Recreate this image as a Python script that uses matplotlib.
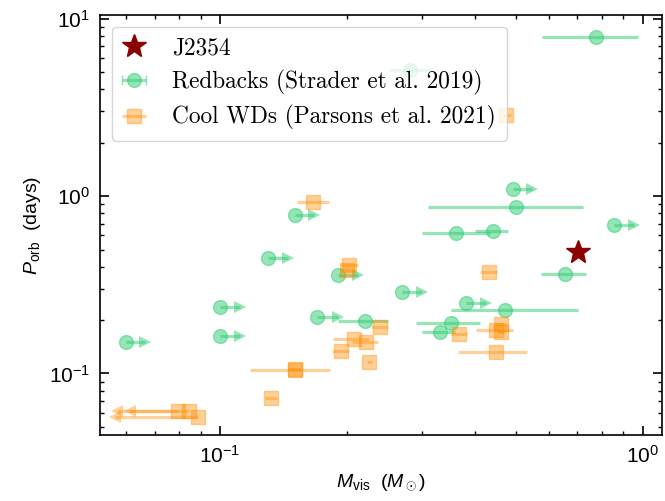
import matplotlib
matplotlib.use("Agg")
import matplotlib.pyplot as plt
import numpy as np

# J2354
j_mass = [0.703]
j_porb = [0.4845]

# Redbacks (Strader et al. 2019) with mass errors
rb_mass = [0.2206, 0.502, 0.361, 0.441, 0.654, 0.472, 0.351, 0.331, 0.773, 0.2806]
rb_porb = [0.1975, 0.87, 0.616, 0.634, 0.366, 0.227, 0.192, 0.171, 7.86, 5.12]
rb_err_lo = [0.0306, 0.191, 0.060, 0.0395, 0.080, 0.120, 0.060, 0.030, 0.197, 0.0296]
rb_err_hi = [0.0284, 0.220, 0.074, 0.040, 0.079, 0.231, 0.061, 0.028, 0.201, 0.0364]

# Redbacks with only a lower mass limit
rb_lim_mass = [0.0598, 0.100, 0.100, 0.130, 0.150, 0.190, 0.170, 0.492, 0.855, 0.270, 0.382]
rb_lim_porb = [0.150, 0.1625, 0.238, 0.448, 0.784, 0.361, 0.208, 1.095, 0.689, 0.287, 0.2496]
rb_lim_err = [0.0068, 0.0115, 0.0115, 0.015, 0.017, 0.022, 0.0196, 0.056, 0.097, 0.031, 0.0435]

# Cool WDs (Parsons et al. 2021) with mass errors
wd_mass = [0.1656, 0.2021, 0.200, 0.150, 0.150, 0.132, 0.2077, 0.221, 0.193, 0.2254,
           0.239, 0.4315, 0.4617, 0.449, 0.4617, 0.3666, 0.449, 0.4755]
wd_porb = [0.921, 0.41, 0.385, 0.104, 0.1055, 0.0725, 0.157, 0.150, 0.134, 0.116,
           0.183, 0.372, 0.191, 0.175, 0.171, 0.1676, 0.132, 2.85]
wd_err_lo = [0.0138, 0.009, 0.008, 0.032, 0.005, 0.004, 0.0227, 0.0155, 0.009, 0.003,
             0.012, 0.0195, 0.015, 0.045, 0.010, 0.0146, 0.083, 0.010]
wd_err_hi = [0.0151, 0.010, 0.008, 0.032, 0.005, 0.004, 0.0173, 0.016, 0.009, 0.003,
             0.011, 0.0215, 0.015, 0.043, 0.010, 0.0174, 0.082, 0.012]

# Cool WDs with only an upper mass limit
wd_lim_mass = [0.0797, 0.0846, 0.0888]
wd_lim_porb = [0.0612, 0.0612, 0.0572]
wd_lim_err = [0.0185, 0.0276, 0.0325]

plt.rcParams['font.family'] = ['Liberation Sans', 'DejaVu Sans']
plt.rcParams['mathtext.fontset'] = 'custom'
plt.rcParams['mathtext.rm'] = 'Liberation Sans'
plt.rcParams['mathtext.it'] = 'Liberation Sans:italic'
plt.rcParams['font.size'] = 14
plt.rcParams['axes.linewidth'] = 1.2

green = '#2ecc71'
orange = 'darkorange'

fig = plt.figure(figsize=(6.65, 5.01), dpi=100)
ax = fig.add_axes([100 / 665, 1 - 435 / 501, 562 / 665, 420 / 501])

ax.plot(j_mass, j_porb, ls='none', marker='*', ms=18, color='darkred',
        label='J2354', zorder=5)
rb = ax.errorbar(rb_mass, rb_porb, xerr=[rb_err_lo, rb_err_hi], fmt='o', ms=10,
                 color=green, alpha=0.5, elinewidth=2.3, capsize=3.5,
                 label='Redbacks (Strader et al. 2019)')
rb_lim = ax.errorbar(rb_lim_mass, rb_lim_porb, xerr=rb_lim_err, xlolims=True,
                     fmt='o', ms=10, color=green, alpha=0.5, elinewidth=2.3)
ax.errorbar(wd_mass, wd_porb, xerr=[wd_err_lo, wd_err_hi], fmt='s', ms=10,
            color=orange, alpha=0.4, elinewidth=2.3,
            label='Cool WDs (Parsons et al. 2021)')
wd_lim = ax.errorbar(wd_lim_mass, wd_lim_porb, xerr=wd_lim_err, xuplims=True,
                     fmt='s', ms=10, color=orange, alpha=0.4, elinewidth=2.3)

# solid triangles instead of the open carets on the limit arrows
for cont, head in [(rb_lim, '>'), (wd_lim, '<')]:
    for ln in cont[1]:
        ln.set_marker(head)
        ln.set_markersize(8.5)
        ln.set_markeredgewidth(0)

ax.set_xscale('log')
ax.set_yscale('log')
ax.set_xlim(0.052, 1.11)
ax.set_ylim(0.045, 10.5)
ax.set_xlabel(r'$M_{\rm vis}$  ($M_\odot$)')
ax.set_ylabel(r'$P_{\rm orb}$  (days)')

ax.tick_params(which='both', direction='in', top=True, right=True)
ax.tick_params(which='major', length=6.5, width=1.2, labelsize=15, pad=7)
ax.tick_params(which='minor', length=3, width=1)

leg = ax.legend(loc='upper left', prop={'family': 'cmr10', 'size': 16.8},
                handlelength=1.0, handletextpad=1.15, borderpad=0.45,
                labelspacing=0.45)

# caps only in the legend key, not on the data
for cap in rb[1]:
    cap.set_visible(False)

fig.savefig('out.png', dpi=100)
